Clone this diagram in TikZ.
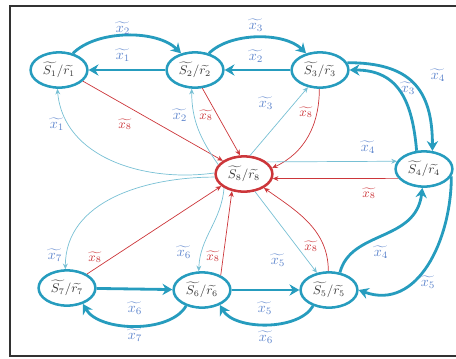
\documentclass[tikz,border=0pt]{standalone}
\usepackage{amsmath}
\definecolor{stteal}{RGB}{38,156,190}
\definecolor{lblblue}{RGB}{92,132,204}
\definecolor{lnred}{RGB}{204,54,58}
\definecolor{lncyan}{RGB}{120,192,212}
\definecolor{txtgray}{RGB}{55,55,55}
\definecolor{framegray}{RGB}{50,50,50}
\usetikzlibrary{arrows.meta,shapes.geometric}

\begin{document}
\begin{tikzpicture}[x=0.025cm, y=0.025cm,
    stnode/.style={ellipse, draw=stteal, line width=1.8pt, minimum width=1.42cm, minimum height=0.88cm,
      inner sep=0pt, font=\small, text=txtgray},
    thk/.style={draw=stteal, line width=2pt, -{Stealth[length=7pt,width=8pt]}},
    redln/.style={draw=lnred, line width=0.5pt, -{Stealth[length=4pt,width=3.5pt]}},
    cyanln/.style={draw=lncyan, line width=0.5pt, -{Stealth[length=4pt,width=3.5pt]}},
    blbl/.style={text=lblblue, font=\normalsize},
    rlbl/.style={text=lnred, font=\small}
  ]
    \useasboundingbox (0,0) rectangle (456,-358);
    \clip (0,0) rectangle (456,-358);
    \draw[framegray, line width=1.2pt] (10,-6) rectangle (470,-356);

    % States
    \node[stnode] (s1) at (59,-70)   {$\widetilde{S_1}/\widetilde{r_1}$};
    \node[stnode] (s2) at (195,-70)  {$\widetilde{S_2}/\widetilde{r_2}$};
    \node[stnode] (s3) at (320,-70)  {$\widetilde{S_3}/\widetilde{r_3}$};
    \node[stnode] (s4) at (424,-169) {$\widetilde{S_4}/\widetilde{r_4}$};
    \node[stnode] (s5) at (329,-290) {$\widetilde{S_5}/\widetilde{r_5}$};
    \node[stnode] (s6) at (202,-290) {$\widetilde{S_6}/\widetilde{r_6}$};
    \node[stnode] (s7) at (67,-288)  {$\widetilde{S_7}/\widetilde{r_7}$};
    \node[stnode, draw=lnred] (s8) at (244,-174) {$\widetilde{S_8}/\widetilde{r_8}$};

    % Thick transitions
    \draw[thk] (s2) -- (s1);
    \draw[thk] (s1.50) to[out=45,in=135,looseness=0.8] (s2.130);
    \draw[thk] (s3) -- (s2);
    \draw[thk] (s2.50) to[out=45,in=135,looseness=0.8] (s3.130);
    \draw[thk] (s3.15) to[out=0,in=90,looseness=1.3] (s4.65);
    \draw[thk] (s4.112) to[out=95,in=0,looseness=1.2] (s3.east);
    \draw[thk] (s4.-15) to[out=-90,in=-20,looseness=1.1] (s5.east);
    \draw[thk] (s5.58) .. controls (351,-230) and (416,-242) .. (s4.-95);
    \draw[thk] (s7) -- (s6);
    \draw[thk] (s6.225) to[out=-120,in=-60,looseness=0.8] (s7.-45);
    \draw[thk] (s6) -- (s5);
    \draw[thk] (s5.225) to[out=-120,in=-60,looseness=0.8] (s6.-40);

    % Thin transitions into S8
    \draw[redln] (s1.-25) -- (s8.148);
    \draw[redln] (s2.-68) -- (s8.102);
    \draw[redln] (s3.-92) to[out=-90,in=25] (s8.12);
    \draw[redln] (s4.200) -- (s8.-9);
    \draw[redln] (s5.92) to[out=90,in=-35] (s8.-35);
    \draw[redln] (s6.38) -- (s8.-125);
    \draw[redln] (s7.35) -- (s8.-152);

    % Thin transitions out of S8
    \draw[cyanln] (s8.178) to[out=188,in=-85] (s1.-95);
    \draw[cyanln] (s8.160) to[out=125,in=-90] (s2.-100);
    \draw[cyanln] (s8.72) -- (s3.-125);
    \draw[cyanln] (s8.28) -- (s4.164);
    \draw[cyanln] (s8.-58) -- (s5.125);
    \draw[cyanln] (s8.-145) to[out=-95,in=88] (s6.100);
    \draw[cyanln] (s8.186) to[out=180,in=90] (s7.95);

    % Labels
    \node[blbl] (l12) at (123,-28)  {$\widetilde{x_2}$};
    \node[blbl] (l21) at (123,-55)  {$\widetilde{x_1}$};
    \node[blbl] (l23) at (256,-25)  {$\widetilde{x_3}$};
    \node[blbl] (l32) at (256,-56)  {$\widetilde{x_2}$};
    \node[blbl] (l34) at (438,-75)  {$\widetilde{x_4}$};
    \node[blbl] (l43) at (408,-88)  {$\widetilde{x_3}$};
    \node[blbl] (l54) at (381,-252) {$\widetilde{x_4}$};
    \node[blbl] (l45) at (428,-282) {$\widetilde{x_5}$};
    \node[blbl] (l76) at (135,-308) {$\widetilde{x_6}$};
    \node[blbl] (l67) at (135,-335) {$\widetilde{x_7}$};
    \node[blbl] (l65) at (265,-308) {$\widetilde{x_5}$};
    \node[blbl] (l56) at (266,-337) {$\widetilde{x_6}$};
    \node[blbl] (c1) at (57,-124)  {$\widetilde{x_1}$};
    \node[blbl] (c2) at (180,-115) {$\widetilde{x_2}$};
    \node[blbl] (c3) at (266,-103) {$\widetilde{x_3}$};
    \node[blbl] (c4) at (368,-147) {$\widetilde{x_4}$};
    \node[blbl] (c5) at (278,-260) {$\widetilde{x_5}$};
    \node[blbl] (c6) at (184,-252) {$\widetilde{x_6}$};
    \node[blbl] (c7) at (55,-255)  {$\widetilde{x_7}$};
    \node[rlbl] (r1) at (125,-124) {$\widetilde{x_8}$};
    \node[rlbl] (r2) at (206,-115) {$\widetilde{x_8}$};
    \node[rlbl] (r3) at (306,-112) {$\widetilde{x_8}$};
    \node[rlbl] (r4) at (369,-193) {$\widetilde{x_8}$};
    \node[rlbl] (r5) at (311,-246) {$\widetilde{x_8}$};
    \node[rlbl] (r6) at (213,-256) {$\widetilde{x_8}$};
    \node[rlbl] (r7) at (95,-257)  {$\widetilde{x_8}$};
  \end{tikzpicture}
\end{document}
